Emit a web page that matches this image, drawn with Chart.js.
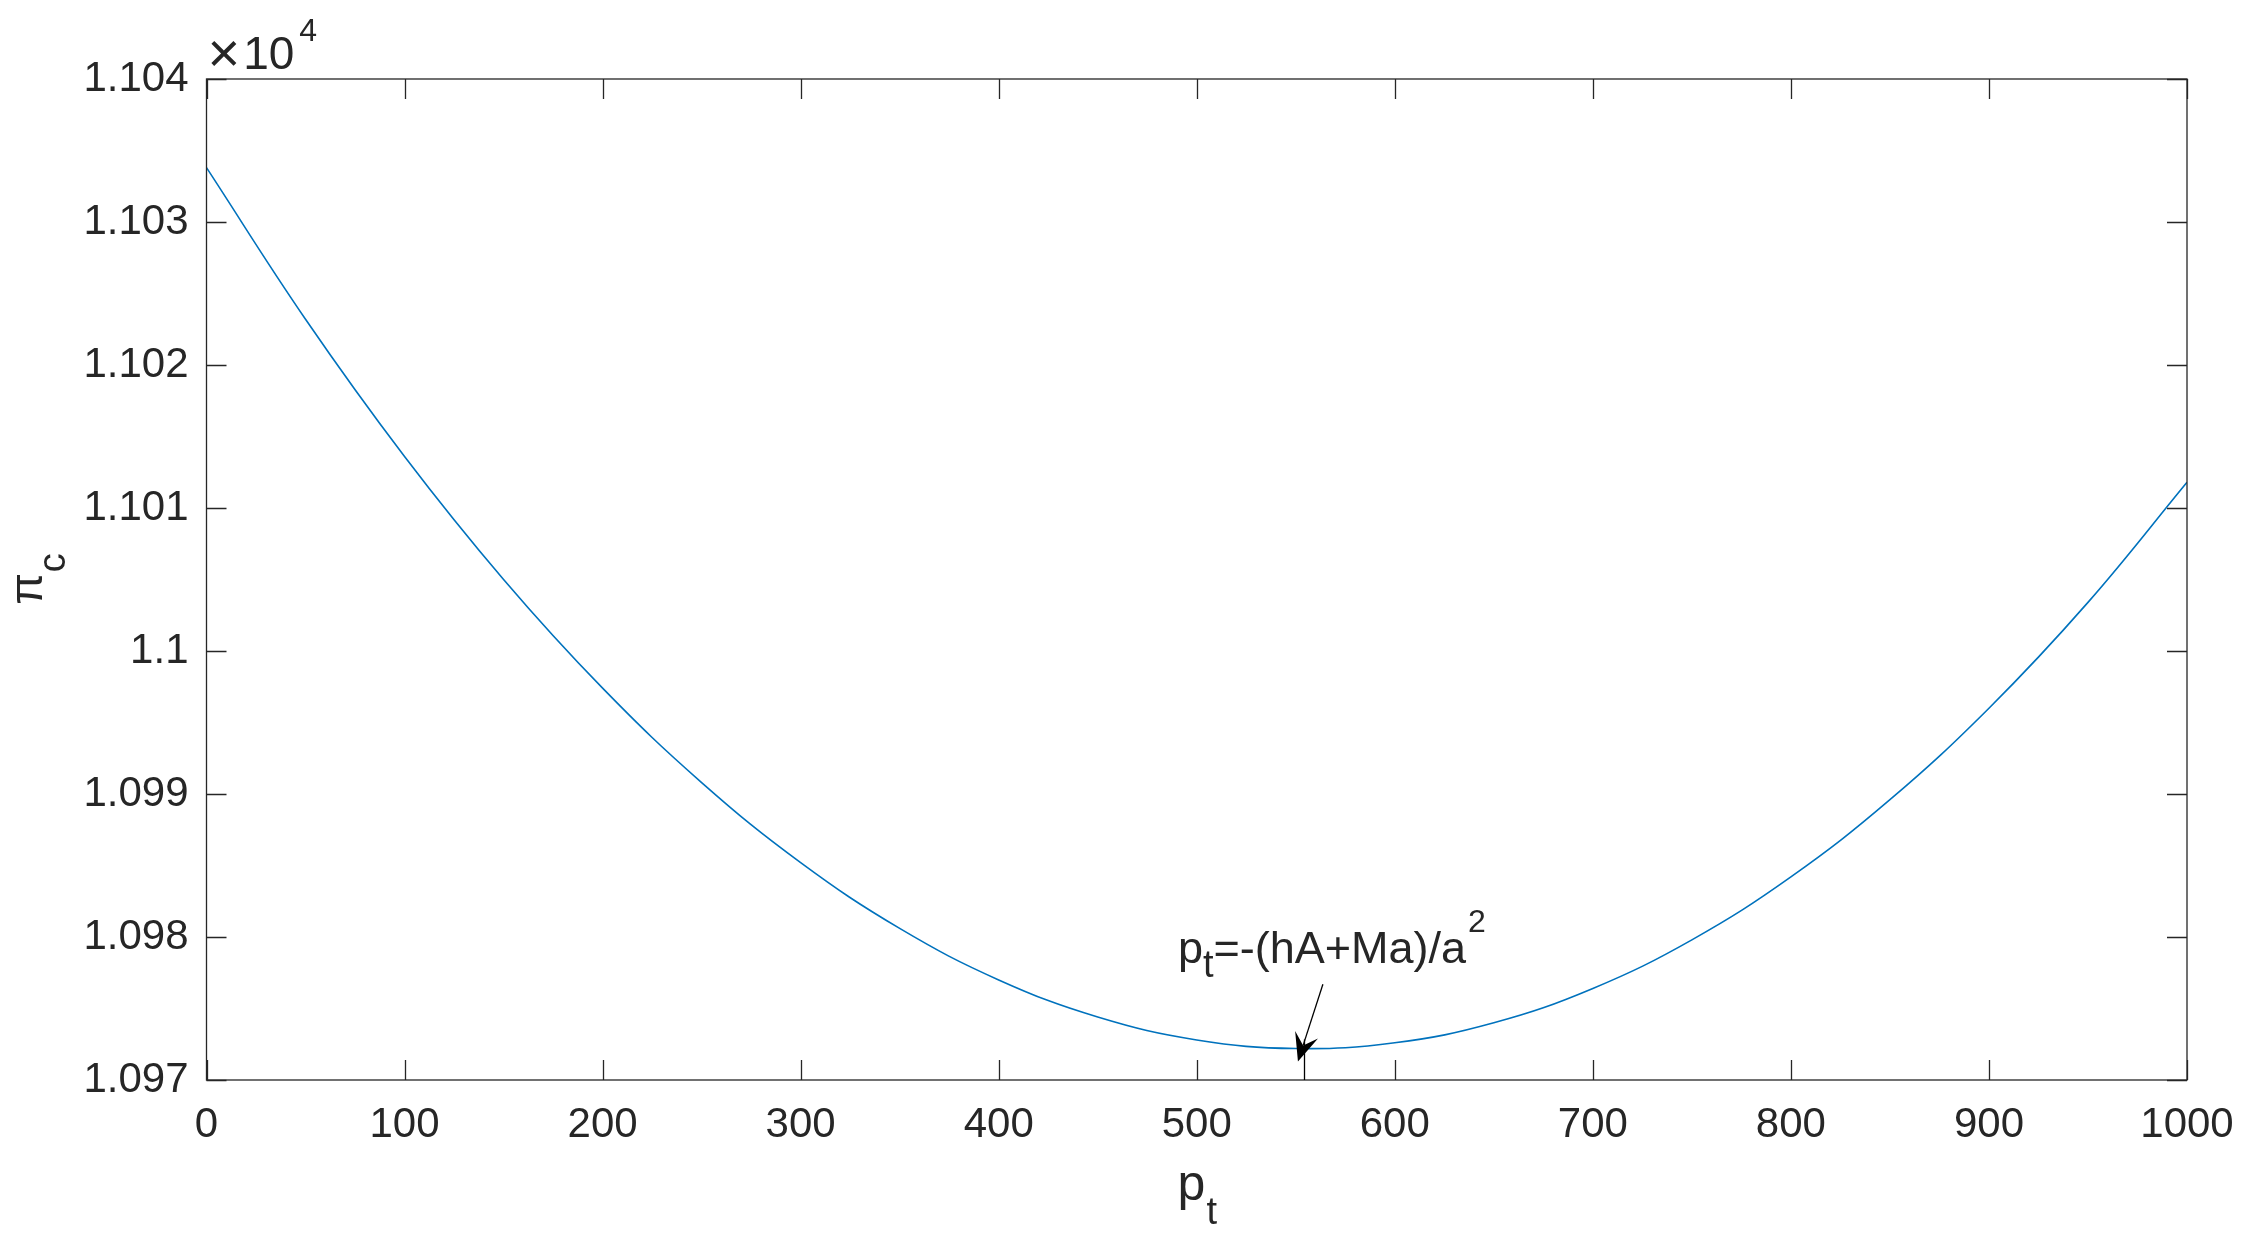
<!DOCTYPE html>
<html>
<head>
<meta charset="utf-8">
<script src="https://cdn.jsdelivr.net/npm/chart.js@4.4.1/dist/chart.umd.min.js"></script>
<style>
  html, body { margin: 0; padding: 0; background: #fff; }
  #wrap { width: 2247px; height: 1244px; }
</style>
</head>
<body>
<div id="wrap"><canvas id="chart" width="2247" height="1244"></canvas></div>
<script>
// p_t values and pi_c (pi_c in plain units, axis shows x10^4)
const pt = [0, 50, 100, 150, 200, 250, 300, 350, 400, 450, 500,
            550, 600, 650, 700, 750, 800, 850, 900, 950, 1000];
const piC = [11033.8, 11023.2, 11013.6, 11005.0, 10997.4, 10990.8, 10985.2, 10980.6, 10977.0, 10974.4, 10972.8,
             10972.2, 10972.6, 10974.0, 10976.4, 10979.8, 10984.2, 10989.6, 10996.0, 11003.4, 11011.8];

const xTicks = [0, 100, 200, 300, 400, 500, 600, 700, 800, 900, 1000];
const yTicks = [10970, 10980, 10990, 11000, 11010, 11020, 11030, 11040];
const yTickLabels = ['1.097', '1.098', '1.099', '1.1', '1.101', '1.102', '1.103', '1.104'];

// annotation anchor points, in data units
const noteText = { x: 490.5, y: 10978.2 };
const arrowFrom = { x: 563.7, y: 10976.7 };
const arrowTo = { x: 551.1, y: 10971.3 };
const markX = 554.1;

const FONT = '"Liberation Sans", Arial, sans-serif';
const INK = '#262626';

const matlabAxes = {
    id: 'matlabAxes',
    afterDraw(chart) {
        const { ctx, chartArea: a, scales: { x, y } } = chart;
        ctx.save();
        ctx.strokeStyle = INK;
        ctx.lineWidth = 1.3;
        ctx.strokeRect(a.left, a.top, a.right - a.left, a.bottom - a.top);

        const tl = 20;
        ctx.beginPath();
        xTicks.forEach(v => {
            const px = Math.round(x.getPixelForValue(v)) + 0.5;
            ctx.moveTo(px, a.bottom); ctx.lineTo(px, a.bottom - tl);
            ctx.moveTo(px, a.top); ctx.lineTo(px, a.top + tl);
        });
        yTicks.forEach(v => {
            const py = Math.round(y.getPixelForValue(v)) + 0.5;
            ctx.moveTo(a.left, py); ctx.lineTo(a.left + tl, py);
            ctx.moveTo(a.right, py); ctx.lineTo(a.right - tl, py);
        });
        ctx.stroke();

        ctx.fillStyle = INK;
        ctx.textBaseline = 'alphabetic';
        ctx.textAlign = 'left';

        // x10^4 exponent
        ctx.font = '56px ' + FONT;
        ctx.fillText('\u00d7', a.left + 1, a.top - 7);
        const mw = ctx.measureText('\u00d7').width;
        ctx.font = '46px ' + FONT;
        ctx.fillText('10', a.left + mw + 4, a.top - 10);
        const ew = mw + 4 + ctx.measureText('10').width;
        ctx.font = '32px ' + FONT;
        ctx.fillText('4', a.left + ew + 5, a.top - 38);

        // x axis title p_t
        const cx = (a.left + a.right) / 2;
        ctx.font = '50px ' + FONT;
        const pw = ctx.measureText('p').width;
        ctx.font = '38px ' + FONT;
        const tw = ctx.measureText('t').width;
        const x0 = cx - (pw + tw) / 2;
        ctx.font = '50px ' + FONT;
        ctx.fillText('p', x0, 1200);
        ctx.font = '38px ' + FONT;
        ctx.fillText('t', x0 + pw + 1, 1224);

        // y axis title pi_c
        const cy = (a.top + a.bottom) / 2;
        ctx.save();
        ctx.translate(42, cy);
        ctx.rotate(-Math.PI / 2);
        ctx.font = '46px ' + FONT;
        const piw = ctx.measureText('\u03c0').width;
        ctx.font = '38px ' + FONT;
        const cw = ctx.measureText('c').width;
        const s = -(piw + cw) / 2;
        ctx.font = '46px ' + FONT;
        ctx.fillText('\u03c0', s, 0);
        ctx.font = '38px ' + FONT;
        ctx.fillText('c', s + piw + 1, 23);
        ctx.restore();

        // annotation text p_t=-(hA+Ma)/a^2
        let tx = x.getPixelForValue(noteText.x);
        const ty = y.getPixelForValue(noteText.y);
        ctx.font = '45px ' + FONT;
        ctx.fillText('p', tx, ty);
        tx += ctx.measureText('p').width;
        ctx.font = '38px ' + FONT;
        ctx.fillText('t', tx, ty + 14);
        tx += ctx.measureText('t').width;
        ctx.font = '45px ' + FONT;
        ctx.fillText('=-(hA+Ma)/a', tx, ty);
        tx += ctx.measureText('=-(hA+Ma)/a').width;
        ctx.font = '32px ' + FONT;
        ctx.fillText('2', tx + 2, ty - 31);

        // arrow
        const ax0 = x.getPixelForValue(arrowFrom.x), ay0 = y.getPixelForValue(arrowFrom.y);
        const ax1 = x.getPixelForValue(arrowTo.x), ay1 = y.getPixelForValue(arrowTo.y);
        const ang = Math.atan2(ay1 - ay0, ax1 - ax0);
        const hl = 28, hw = 12;
        ctx.strokeStyle = '#000';
        ctx.fillStyle = '#000';
        ctx.lineWidth = 1.3;
        ctx.beginPath();
        ctx.moveTo(ax0, ay0);
        ctx.lineTo(ax1 - Math.cos(ang) * hl * 0.6, ay1 - Math.sin(ang) * hl * 0.6);
        ctx.stroke();
        ctx.save();
        ctx.translate(ax1, ay1);
        ctx.rotate(ang);
        ctx.beginPath();
        ctx.moveTo(0, 0);
        ctx.lineTo(-hl, -hw);
        ctx.lineTo(-hl * 0.6, 0);
        ctx.lineTo(-hl, hw);
        ctx.closePath();
        ctx.fill();
        ctx.restore();

        // short vertical mark under the arrow head
        const mx = Math.round(x.getPixelForValue(markX)) + 0.5;
        ctx.beginPath();
        ctx.moveTo(mx, ay1 - 22);
        ctx.lineTo(mx, a.bottom);
        ctx.stroke();

        ctx.restore();
    }
};

new Chart(document.getElementById('chart'), {
    type: 'line',
    data: {
        datasets: [{
            data: pt.map((v, i) => ({ x: v, y: piC[i] })),
            borderColor: '#0072BD',
            borderWidth: 1.6,
            pointRadius: 0,
            tension: 0.4,
            fill: false
        }]
    },
    options: {
        responsive: false,
        animation: false,
        devicePixelRatio: 1,
        layout: { padding: { top: 79, right: 60, left: 0, bottom: 0 } },
        plugins: { legend: { display: false }, tooltip: { enabled: false } },
        scales: {
            x: {
                type: 'linear',
                min: 0,
                max: 1000,
                afterFit: s => { s.height = 164; s.paddingLeft = 0; s.paddingRight = 0; },
                afterBuildTicks: s => { s.ticks = xTicks.map(v => ({ value: v })); },
                grid: { display: false, drawTicks: false },
                border: { display: false },
                ticks: {
                    autoSkip: false,
                    maxRotation: 0,
                    padding: 20,
                    color: INK,
                    font: { family: FONT, size: 42 },
                    callback: v => String(v)
                }
            },
            y: {
                type: 'linear',
                min: 10970,
                max: 11040,
                afterFit: s => { s.width = 206.5; s.paddingTop = 0; s.paddingBottom = 0; },
                afterBuildTicks: s => { s.ticks = yTicks.map(v => ({ value: v })); },
                grid: { display: false, drawTicks: false },
                border: { display: false },
                ticks: {
                    autoSkip: false,
                    padding: 18,
                    color: INK,
                    font: { family: FONT, size: 42 },
                    callback: v => yTickLabels[yTicks.indexOf(v)]
                }
            }
        }
    },
    plugins: [matlabAxes]
});
</script>
</body>
</html>
